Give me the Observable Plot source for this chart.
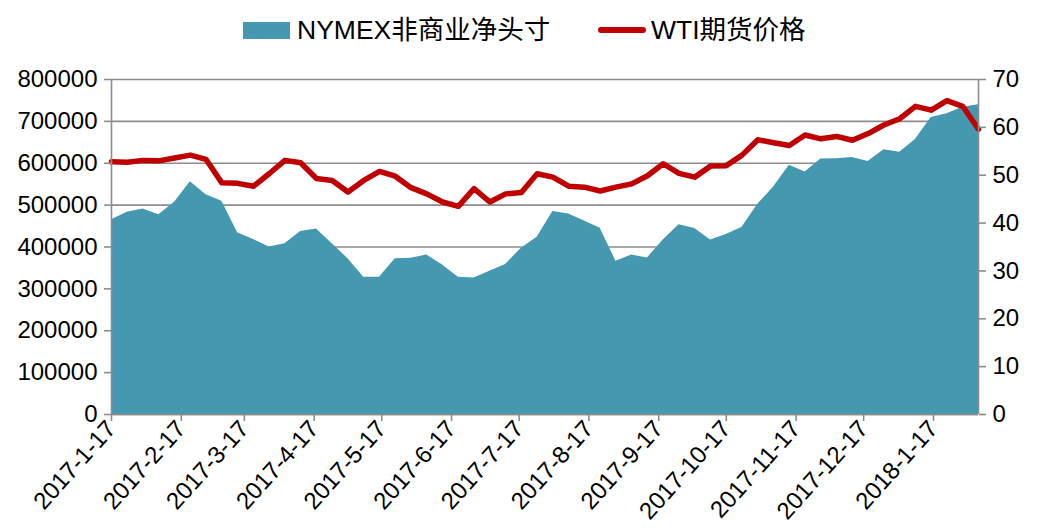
<!DOCTYPE html>
<html>
<head>
<meta charset="utf-8">
<script src="https://cdn.jsdelivr.net/npm/d3@7"></script>
<script src="https://cdn.jsdelivr.net/npm/@observablehq/plot@0.6"></script>
<style>
  html, body { margin: 0; padding: 0; background: #fff; }
  body { width: 1038px; height: 529px; overflow: hidden; font-family: "Liberation Sans", Arial, "Noto Sans CJK SC", sans-serif; }
  #legend { position: relative; height: 60px; width: 1038px; }
  .sw-area { position: absolute; left: 243px; top: 22px; width: 47px; height: 17px; background: #4499b1; }
  .sw-line { position: absolute; left: 598px; top: 27px; width: 48px; height: 6px; border-radius: 3px; background: #c00000; }
  .lg-text { position: absolute; top: 12px; font-size: 26.5px; line-height: 36px; color: #000; white-space: nowrap; font-family: "Liberation Sans", Arial, "Noto Sans CJK SC", sans-serif; }
</style>
</head>
<body>
<div id="legend">
  <div class="sw-area"></div>
  <div class="lg-text" style="left:297px">NYMEX非商业净头寸</div>
  <div class="sw-line"></div>
  <div class="lg-text" style="left:651px">WTI期货价格</div>
</div>
<div id="chart"></div>
<script>
// Weekly report dates
const dates = [
  "2017-01-17","2017-01-24","2017-01-31","2017-02-07","2017-02-14","2017-02-21","2017-02-28",
  "2017-03-07","2017-03-14","2017-03-21","2017-03-28","2017-04-04","2017-04-11","2017-04-18","2017-04-25",
  "2017-05-02","2017-05-09","2017-05-16","2017-05-23","2017-05-30","2017-06-06","2017-06-13","2017-06-20","2017-06-27",
  "2017-07-04","2017-07-11","2017-07-18","2017-07-25","2017-08-01","2017-08-08","2017-08-15","2017-08-22","2017-08-29",
  "2017-09-05","2017-09-12","2017-09-19","2017-09-26","2017-10-03","2017-10-10","2017-10-17","2017-10-24","2017-10-31",
  "2017-11-07","2017-11-14","2017-11-21","2017-11-28","2017-12-05","2017-12-12","2017-12-19","2017-12-26",
  "2018-01-02","2018-01-09","2018-01-16","2018-01-23","2018-01-30","2018-02-06"
];
// NYMEX non-commercial net position (left axis)
const nymex = [
  465000, 483000, 491000, 477000, 507000, 556000, 525000, 509000, 434000, 418000,
  400000, 408000, 437000, 443000, 408000, 372000, 328000, 328000, 372000, 373000,
  381000, 357000, 328000, 326000, 342000, 358000, 397000, 423000, 485000, 479000,
  462000, 445000, 366000, 381000, 374000, 417000, 453000, 444000, 417000, 430000,
  447000, 502000, 543000, 595000, 579000, 610000, 611000, 614000, 604000, 632000,
  626000, 657000, 709000, 718000, 734000, 740000
];
// WTI futures price (right axis)
const wti = [
  52.8, 52.7, 53.1, 53.0, 53.6, 54.2, 53.3, 48.4, 48.3, 47.7,
  50.3, 53.1, 52.6, 49.3, 48.9, 46.5, 48.9, 50.8, 49.8, 47.4,
  46.1, 44.4, 43.5, 47.2, 44.4, 46.1, 46.4, 50.3, 49.6, 47.7,
  47.5, 46.7, 47.5, 48.2, 49.9, 52.4, 50.4, 49.6, 51.9, 52.0,
  54.2, 57.4, 56.8, 56.2, 58.4, 57.6, 58.1, 57.3, 58.7, 60.5,
  61.8, 64.4, 63.6, 65.6, 64.4, 59.6
];
const xTickDates = ["2017-01-17","2017-02-17","2017-03-17","2017-04-17","2017-05-17","2017-06-17",
  "2017-07-17","2017-08-17","2017-09-17","2017-10-17","2017-11-17","2017-12-17","2018-01-17"];
const xTickLabels = ["2017-1-17","2017-2-17","2017-3-17","2017-4-17","2017-5-17","2017-6-17",
  "2017-7-17","2017-8-17","2017-9-17","2017-10-17","2017-11-17","2017-12-17","2018-1-17"];
const leftTicks = [0, 100000, 200000, 300000, 400000, 500000, 600000, 700000, 800000];
const rightTicks = [0, 10, 20, 30, 40, 50, 60, 70];
const leftMax = 800000, rightMax = 70;

const k = leftMax / rightMax;
const rows = dates.map((d, i) => ({date: new Date(d), nymex: nymex[i], wti: wti[i]}));
const tickDates = xTickDates.map(d => new Date(d));
const labelOf = new Map(tickDates.map((d, i) => [+d, xTickLabels[i]]));
const x0 = new Date(dates[0]), x1 = new Date(dates[dates.length - 1]);

const axisColor = "#8c8c8c";
const chart = Plot.plot({
  width: 1038,
  height: 469,
  marginLeft: 111,
  marginRight: 60,
  marginTop: 19,
  marginBottom: 115,
  x: {type: "utc", domain: [x0, x1]},
  y: {domain: [0, leftMax]},
  style: {fontFamily: '"Liberation Sans", Arial, sans-serif', fontSize: "24px", color: "#000", background: "#fff", overflow: "visible"},
  marks: [
    Plot.gridY(leftTicks, {stroke: axisColor, strokeOpacity: 1, strokeWidth: 1.6}),
    Plot.areaY(rows, {x: "date", y: "nymex", fill: "#4499b1", curve: "linear"}),
    Plot.lineY(rows, {x: "date", y: d => d.wti * k, stroke: "#c00000", strokeWidth: 5.5, strokeLinejoin: "round", strokeLinecap: "round"}),
    Plot.ruleX([x0], {stroke: axisColor, strokeWidth: 1.6}),
    Plot.ruleX([x1], {stroke: axisColor, strokeWidth: 1.6}),
    Plot.ruleY([0], {stroke: axisColor, strokeWidth: 1.6}),
    Plot.axisY({ticks: leftTicks, anchor: "left", tickSize: 7, tickPadding: 7, stroke: axisColor, strokeWidth: 1.6, tickFormat: d => String(d), label: null}),
    Plot.axisY({ticks: rightTicks.map(v => v * k), anchor: "right", tickSize: 7, tickPadding: 7, stroke: axisColor, strokeWidth: 1.6, tickFormat: v => String(Math.round(v / k)), label: null}),
    Plot.axisX({ticks: tickDates, tickRotate: -48, tickSize: 7, tickPadding: 3, fontSize: 24, stroke: axisColor, strokeWidth: 1.6, tickFormat: d => labelOf.get(+d), label: null})
  ]
});
document.getElementById("chart").appendChild(chart);
</script>
</body>
</html>
